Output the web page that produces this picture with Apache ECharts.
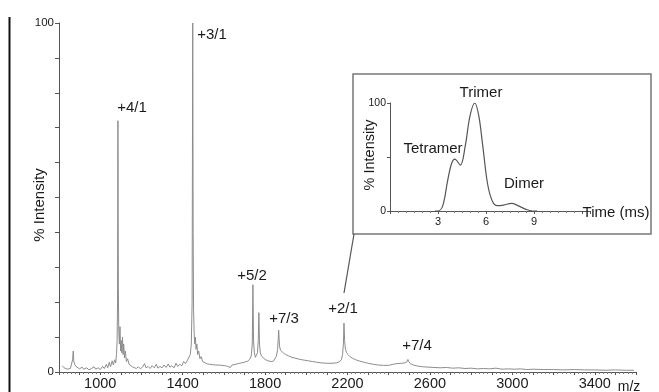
<!DOCTYPE html>
<html>
<head>
<meta charset="utf-8">
<script src="https://cdn.jsdelivr.net/npm/echarts@6/dist/echarts.min.js"></script>
<style>
  html, body { margin: 0; padding: 0; background: #fff; }
  #chart { width: 659px; height: 392px; }
</style>
</head>
<body>
<div id="chart"></div>
<script>
// main mass spectrum, [m/z, % intensity]
const spectrum = [
  [815, 1.8], [825, 1.2], [840, 0.8], [855, 1.0], [862, 1.5], [866, 3.5], [869, 6.0], [872, 3.0],
  [876, 2.2], [882, 1.6], [890, 1.2], [900, 0.9], [912, 1.4], [920, 0.8], [935, 1.2], [945, 0.6],
  [958, 1.0], [970, 1.5], [978, 0.8], [990, 1.2], [1000, 0.7], [1012, 1.6], [1020, 1.0], [1030, 2.2],
  [1036, 1.2], [1044, 2.8], [1050, 1.5], [1058, 3.2], [1064, 2.0], [1070, 3.5], [1075, 2.6], [1079, 5],
  [1082, 9], [1084, 20], [1086, 72], [1088, 24], [1090, 12], [1093, 8], [1096, 13], [1099, 6],
  [1102, 9], [1105, 5.5], [1108, 10], [1111, 5], [1114, 8], [1118, 4], [1122, 6], [1127, 3],
  [1133, 3.8], [1140, 2.2], [1148, 2.6], [1156, 1.5], [1165, 1.8], [1175, 1.0], [1185, 1.5], [1195, 0.9],
  [1205, 1.4], [1215, 2.4], [1222, 1.2], [1232, 1.6], [1242, 1.0], [1252, 1.8], [1262, 1.2], [1272, 2.2],
  [1280, 1.1], [1290, 1.6], [1300, 1.2], [1310, 2.0], [1320, 1.3], [1330, 2.3], [1338, 1.4], [1348, 1.8],
  [1358, 1.2], [1368, 2.5], [1376, 1.6], [1386, 2.2], [1396, 1.8], [1405, 3.0], [1414, 2.4], [1422, 3.2],
  [1430, 3.0], [1437, 5], [1442, 8], [1446, 20], [1449, 100], [1451, 40], [1453, 18], [1456, 11],
  [1459, 8], [1462, 10], [1465, 6.5], [1469, 8], [1473, 5], [1478, 6], [1484, 3.8], [1490, 4.4],
  [1497, 3.0], [1505, 2.8], [1515, 2.4], [1530, 2.2], [1545, 2.1], [1560, 2.0], [1575, 2.0], [1590, 1.9],
  [1605, 1.8], [1618, 1.6], [1625, 1.2], [1632, 1.3], [1640, 2.0], [1655, 2.2], [1670, 2.4], [1685, 2.6],
  [1700, 2.8], [1715, 3.1], [1725, 3.6], [1733, 4.6], [1738, 8], [1741, 25], [1744, 9], [1748, 5.5],
  [1753, 4.2], [1758, 4.0], [1763, 5.5], [1767, 9], [1770, 17], [1773, 8], [1777, 5.5], [1783, 4.5],
  [1790, 4.0], [1800, 3.6], [1810, 3.3], [1820, 3.1], [1830, 3.0], [1840, 3.1], [1848, 3.6], [1855, 4.5],
  [1861, 6.5], [1866, 12], [1870, 7.5], [1875, 6.2], [1882, 6.0], [1890, 5.4], [1900, 5.0], [1915, 4.6],
  [1930, 4.2], [1950, 3.9], [1970, 3.6], [1990, 3.4], [2010, 3.2], [2030, 3.0], [2050, 2.8], [2075, 2.6],
  [2100, 2.5], [2125, 2.5], [2145, 2.6], [2160, 2.9], [2170, 3.5], [2176, 5], [2180, 8], [2183, 14],
  [2186, 9], [2190, 6.5], [2195, 5.6], [2202, 5.0], [2212, 4.4], [2225, 3.9], [2240, 3.5], [2260, 3.1],
  [2280, 2.8], [2300, 2.5], [2325, 2.2], [2350, 2.0], [2375, 1.9], [2400, 1.9], [2420, 2.2], [2440, 2.4],
  [2460, 2.5], [2478, 2.6], [2488, 2.9], [2493, 3.6], [2497, 3.0], [2505, 2.4], [2520, 2.0], [2540, 1.7],
  [2565, 1.5], [2590, 1.4], [2620, 1.3], [2650, 1.2], [2680, 1.3], [2710, 1.1], [2740, 1.2], [2770, 1.0],
  [2800, 1.1], [2830, 0.9], [2860, 1.0], [2890, 0.9], [2920, 1.1], [2950, 0.8], [2980, 0.9], [3010, 0.8],
  [3040, 0.9], [3070, 0.7], [3100, 0.8], [3150, 0.7], [3200, 0.7], [3250, 0.6], [3300, 0.7], [3350, 0.6],
  [3400, 0.6], [3450, 0.5], [3500, 0.6], [3550, 0.5], [3590, 0.5]
];

// inset arrival-time distribution, [ms, % intensity]
const arrival = [
  [2.8, 0], [3.0, 0], [3.3, 5], [3.6, 28], [3.85, 44], [4.05, 48], [4.4, 42.5], [4.7, 60],
  [5.0, 88], [5.3, 100], [5.55, 88], [5.8, 60], [6.1, 25], [6.4, 9], [6.7, 5], [7.1, 5.5],
  [7.6, 7], [8.0, 5], [8.5, 1.5], [8.9, 0], [9.2, 0]
];

const mzLabels = ['1000', '1400', '1800', '2200', '2600', '3000', '3400'];
const timeLabels = ['3', '6', '9'];

// peak annotations (text, centre in pixels)
const peakNotes = [
  ['+4/1', 132, 108], ['+3/1', 212, 35], ['+5/2', 252, 276],
  ['+7/3', 284, 319], ['+2/1', 343, 309], ['+7/4', 417, 346]
];
const insetNotes = [
  ['Tetramer', 433, 149], ['Trimer', 481, 93], ['Dimer', 524, 184]
];

const font = 'Liberation Sans, Arial, sans-serif';
const axisColor = '#555';

const chart = echarts.init(document.getElementById('chart'));

const textEl = (t, x, y, size, rot) => ({
  type: 'text', x: x, y: y, rotation: rot || 0, z: 10,
  style: { text: t, fill: '#1a1a1a', font: size + 'px ' + font, textAlign: 'center', textVerticalAlign: 'middle' }
});

chart.setOption({
  animation: false,
  textStyle: { fontFamily: font },
  grid: [
    { left: 59, top: 23, width: 577, height: 349, outerBoundsMode: 'none' },
    { left: 390, top: 103, width: 200, height: 108, outerBoundsMode: 'none' }
  ],
  xAxis: [
    {
      type: 'value', gridIndex: 0, min: 800, max: 3600, interval: 100,
      axisLine: { lineStyle: { color: axisColor } },
      axisTick: { length: 3, lineStyle: { color: axisColor } },
      minorTick: { show: true, splitNumber: 5, length: 2, lineStyle: { color: '#777' } },
      splitLine: { show: false },
      axisLabel: {
        fontSize: 14.5, color: '#1a1a1a', margin: 4, showMinLabel: true, showMaxLabel: true,
        formatter: v => mzLabels.includes(String(v)) ? String(v) : ''
      }
    },
    {
      type: 'value', gridIndex: 1, min: 0, max: 12.5, interval: 3,
      axisLine: { lineStyle: { color: axisColor } },
      axisTick: { length: 3, lineStyle: { color: axisColor } },
      minorTick: { show: true, splitNumber: 6, length: 2, lineStyle: { color: '#777' } },
      splitLine: { show: false },
      axisLabel: {
        fontSize: 11, color: '#1a1a1a', margin: 5, showMaxLabel: false,
        formatter: v => timeLabels.includes(String(v)) ? String(v) : ''
      }
    }
  ],
  yAxis: [
    {
      type: 'value', gridIndex: 0, min: 0, max: 100, interval: 10,
      axisLine: { show: true, lineStyle: { color: axisColor } },
      axisTick: { show: true, length: 4, lineStyle: { color: axisColor } },
      splitLine: { show: false },
      axisLabel: {
        fontSize: 11.5, color: '#1a1a1a', margin: 5,
        formatter: v => (v === 0 || v === 100) ? String(v) : ''
      }
    },
    {
      type: 'value', gridIndex: 1, min: 0, max: 100, interval: 50,
      axisLine: { show: true, lineStyle: { color: axisColor } },
      axisTick: { show: true, length: 3, lineStyle: { color: axisColor } },
      splitLine: { show: false },
      axisLabel: {
        fontSize: 10.5, color: '#1a1a1a', margin: 4,
        formatter: v => (v === 0 || v === 100) ? String(v) : ''
      }
    }
  ],
  series: [
    {
      type: 'line', xAxisIndex: 0, yAxisIndex: 0, data: spectrum,
      showSymbol: false, lineStyle: { color: '#8c8c8c', width: 1 }
    },
    {
      type: 'line', xAxisIndex: 1, yAxisIndex: 1, data: arrival, smooth: 0.35,
      showSymbol: false, lineStyle: { color: '#555', width: 1.2 }
    }
  ],
  graphic: [
    { type: 'line', shape: { x1: 9.5, y1: 17, x2: 9.5, y2: 392 }, style: { stroke: '#111', lineWidth: 2 } },
    { type: 'rect', shape: { x: 353, y: 74, width: 298, height: 160 }, style: { fill: 'none', stroke: '#777', lineWidth: 1.5 } },
    { type: 'line', shape: { x1: 344, y1: 293, x2: 354, y2: 234 }, style: { stroke: '#555', lineWidth: 1.2 } },
    textEl('% Intensity', 40, 205, 15, Math.PI / 2),
    textEl('% Intensity', 370, 155, 14.5, Math.PI / 2),
    textEl('Time (ms)', 616, 213, 15),
    textEl('m/z', 629, 387, 14)
  ]
    .concat(peakNotes.map(n => textEl(n[0], n[1], n[2], 15)))
    .concat(insetNotes.map(n => textEl(n[0], n[1], n[2], 15)))
});
</script>
</body>
</html>
